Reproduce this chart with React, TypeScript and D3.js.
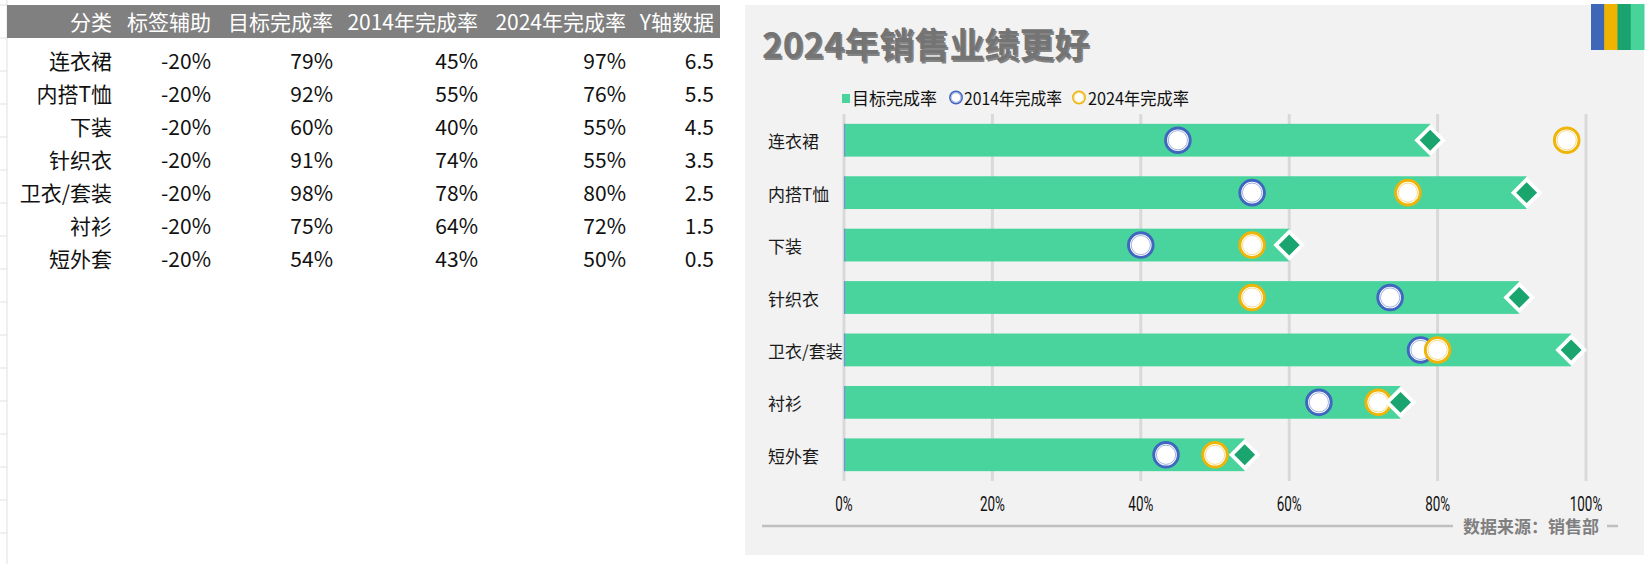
import React from 'react';
import * as d3 from 'd3';

// 数据
const categories = ['连衣裙', '内搭T恤', '下装', '针织衣', '卫衣/套装', '衬衫', '短外套'];
const labelHelper = [-0.2, -0.2, -0.2, -0.2, -0.2, -0.2, -0.2];
const target = [0.79, 0.92, 0.6, 0.91, 0.98, 0.75, 0.54];
const rate2014 = [0.45, 0.55, 0.4, 0.736, 0.777, 0.64, 0.434];
const rate2024 = [0.974, 0.76, 0.55, 0.55, 0.8, 0.72, 0.5];
const yPos = [6.5, 5.5, 4.5, 3.5, 2.5, 1.5, 0.5];
const xTicks = [0, 0.2, 0.4, 0.6, 0.8, 1];
const tableHeaders = ['分类', '标签辅助', '目标完成率', '2014年完成率', '2024年完成率', 'Y轴数据'];
const legendItems = ['目标完成率', '2014年完成率', '2024年完成率'];
const chartTitle = '2024年销售业绩更好';
const sourceText = '数据来源：销售部';

const COLORS = {
  bar: '#48d49c',
  diamond: '#1aa56e',
  blue: '#4066bf',
  yellow: '#efb408',
  grid: '#d9d9d9',
  panel: '#f2f2f2',
  stripes: ['#3f67b8', '#f0b400', '#1aa36e', '#48d39b'],
};

const CJK = '"Noto Sans CJK SC", "Noto Sans", sans-serif';
const locale = d3.formatLocale({ decimal: '.', thousands: ',', grouping: [3], currency: ['', ''], minus: '-' });
const pct = locale.format('.0%');
const one = locale.format('.1f');

const x = d3.scaleLinear().domain([0, 1]).range([844, 1586]);
const y = d3.scaleLinear().domain([0, 7]).range([481, 114]);
const band = y(0) - y(1);
const barH = band * 0.625;
const diamond = d3.symbol(d3.symbolSquare, 18.6 * 18.6)();

const Ring = ({ cx, cy, color, r }: { cx: number; cy: number; color: string; r: number }) => (
  <g>
    <circle cx={cx} cy={cy} r={r} fill="#fff" stroke={color} strokeWidth={r * 0.24} />
    <circle cx={cx} cy={cy} r={r * 0.78} fill="none" stroke={color} strokeOpacity={0.55} strokeWidth={0.9} />
  </g>
);

const Table = () => {
  const colEnds = [112, 211, 333, 478, 626, 714];
  const rowY = (i: number) => 61 + i * 33;
  const rows = categories.map((c, i) => [
    c,
    pct(labelHelper[i]),
    pct(target[i]),
    pct(rate2014[i]),
    pct(rate2024[i]),
    one(yPos[i]),
  ]);
  const gridYs = d3.range(5, 564, 33);
  return (
    <g fontFamily={CJK} fontSize={21}>
      <line x1={7} x2={7} y1={0} y2={564} stroke="#e1e1e1" />
      {gridYs.map((gy) => (
        <line key={gy} x1={0} x2={7} y1={gy} y2={gy} stroke="#e1e1e1" />
      ))}
      <rect x={7} y={5} width={713} height={33} fill="#808080" />
      {tableHeaders.map((h, j) => (
        <text key={h} x={colEnds[j]} y={30} textAnchor="end" fill="#fff">{h}</text>
      ))}
      {rows.map((r, i) => (
        <g key={i}>
          {r.map((v, j) => (
            <text key={j} x={colEnds[j]} y={rowY(i) + 8} textAnchor="end" fill="#111">{v}</text>
          ))}
        </g>
      ))}
    </g>
  );
};

const Chart = () => {
  const stripeW = (1644 - 1591) / COLORS.stripes.length;
  return (
    <g>
      <rect x={745} y={5} width={899} height={550} fill={COLORS.panel} />
      {COLORS.stripes.map((c, i) => (
        <rect key={c} x={1591 + i * stripeW} y={4} width={stripeW + 0.5} height={46} fill={c} />
      ))}

      {/* 标题 */}
      <g fontFamily={CJK} fontWeight={700} fontSize={35}>
        <text x={763.5} y={59.5} fill="#3d3d3d" opacity={0.6}>{chartTitle}</text>
        <text x={762} y={58} fill="#747474">{chartTitle}</text>
      </g>

      {/* 图例 */}
      <g fontFamily={CJK} fontSize={17} fill="#111">
        <rect x={842} y={94} width={8} height={9} fill={COLORS.bar} />
        <text x={852} y={105}>{legendItems[0]}</text>
        <Ring cx={956} cy={97.5} r={6.2} color={COLORS.blue} />
        <text x={964} y={105} textLength={98} lengthAdjust="spacingAndGlyphs">{legendItems[1]}</text>
        <Ring cx={1079} cy={97.5} r={6.2} color={COLORS.yellow} />
        <text x={1088} y={105} textLength={101} lengthAdjust="spacingAndGlyphs">{legendItems[2]}</text>
      </g>

      {/* 网格线 */}
      {xTicks.map((t) => (
        <line key={t} x1={x(t)} x2={x(t)} y1={y(7)} y2={y(0)} stroke={COLORS.grid} strokeWidth={3} />
      ))}

      {/* 条形 */}
      {categories.map((c, i) => (
        <g key={c}>
          <rect x={x(0)} y={y(yPos[i]) - barH / 2} width={x(target[i]) - x(0)} height={barH} fill={COLORS.bar} />
          <line x1={x(0) + 0.5} x2={x(0) + 0.5} y1={y(yPos[i]) - barH / 2} y2={y(yPos[i]) + barH / 2} stroke="#7b8fd8" strokeWidth={1.2} />
        </g>
      ))}

      {/* 圆点 */}
      {categories.map((c, i) => (
        <Ring key={'b' + c} cx={x(rate2014[i])} cy={y(yPos[i])} r={12.3} color={COLORS.blue} />
      ))}
      {categories.map((c, i) => (
        <Ring key={'y' + c} cx={x(rate2024[i])} cy={y(yPos[i])} r={12.3} color={COLORS.yellow} />
      ))}

      {/* 目标菱形 */}
      {categories.map((c, i) => (
        <path
          key={'d' + c}
          d={diamond || ''}
          transform={`translate(${x(target[i])},${y(yPos[i])}) rotate(45)`}
          fill={COLORS.diamond}
          stroke="#fff"
          strokeWidth={3.8}
        />
      ))}

      {/* 分类标签 */}
      <g fontFamily={CJK} fontSize={17} fill="#1a1a1a">
        {categories.map((c, i) => (
          <text key={c} x={768} y={y(yPos[i]) + 8}>{c}</text>
        ))}
      </g>

      {/* X 轴刻度 */}
      <g fontFamily="Roboto, sans-serif" fontSize={21} fill="#111">
        {xTicks.map((t) => (
          <text key={t} transform={`translate(${x(t)},511) scale(0.64,1)`} textAnchor="middle">{pct(t)}</text>
        ))}
      </g>

      {/* 数据来源 */}
      <line x1={762} x2={1453} y1={526} y2={526} stroke="#bfbfbf" strokeWidth={2.5} />
      <line x1={1607} x2={1618} y1={526} y2={526} stroke="#bfbfbf" strokeWidth={2.5} />
      <text x={1463} y={533} fontFamily={CJK} fontSize={17} fontWeight={700} fill="#7f7f7f">{sourceText}</text>
    </g>
  );
};

export default function App() {
  return (
    <svg
      width={1652}
      height={564}
      style={{ position: 'absolute', left: 0, top: 0, background: '#fff' }}
    >
      <Table />
      <Chart />
    </svg>
  );
}
